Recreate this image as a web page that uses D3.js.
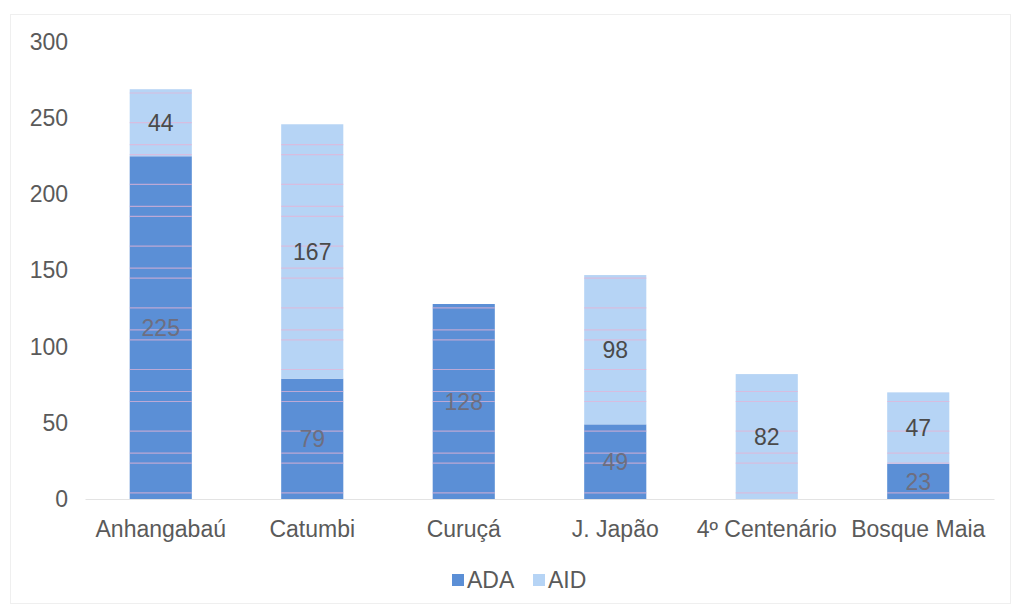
<!DOCTYPE html>
<html>
<head>
<meta charset="utf-8">
<script src="https://cdn.jsdelivr.net/npm/d3@7"></script>
<style>
  html, body { margin: 0; padding: 0; background: #fff; }
  svg { display: block; font-family: "Liberation Sans", Arial, sans-serif; }
</style>
</head>
<body>
<svg id="chart" width="1014" height="611"></svg>
<script>
const categories = ["Anhangabaú", "Catumbi", "Curuçá", "J. Japão", "4º Centenário", "Bosque Maia"];
const ada = [225, 79, 128, 49, 0, 23];
const aid = [44, 167, 0, 98, 82, 47];
const seriesNames = ["ADA", "AID"];
const yTicks = [0, 50, 100, 150, 200, 250, 300];

const colors = { ADA: "#5b8fd6", AID: "#b6d4f5" };
const textColor = "#5a5a5a";
const fontSize = "23px";

const svg = d3.select("#chart");
const W = 1014, H = 611;

// faint frame around the chart area
svg.append("rect")
  .attr("x", 10.5).attr("y", 14.5).attr("width", W - 14).attr("height", H - 22)
  .attr("fill", "none").attr("stroke", "#efefef").attr("stroke-width", 1);

const rows = categories.map((c, i) => ({ cat: c, ADA: ada[i], AID: aid[i] }));
const stacked = d3.stack().keys(seriesNames)(rows);

const x = d3.scaleBand().domain(categories).range([85, 994]).paddingInner(0.59).paddingOuter(0.295);
const y = d3.scaleLinear().domain([0, 300]).range([499, 42]);

// y-axis tick labels
const yAxis = d3.axisLeft(y).tickValues(yTicks).tickSize(0).tickPadding(0);
const gy = svg.append("g").attr("transform", "translate(68,0)").call(yAxis);
gy.select(".domain").remove();
gy.selectAll("text").attr("fill", textColor).style("font-size", fontSize)
  .style("font-family", "'Liberation Sans', Arial, sans-serif");

// bars
const barsG = svg.append("g");
const layer = barsG.selectAll("g").data(stacked).join("g")
  .attr("fill", d => colors[d.key]);
layer.selectAll("rect").data(d => d.map(v => ({ key: d.key, v }))).join("rect")
  .attr("x", d => x(d.v.data.cat))
  .attr("width", x.bandwidth())
  .attr("y", d => y(d.v[1]))
  .attr("height", d => y(d.v[0]) - y(d.v[1]));

// thin pinkish print streaks running across the bars
const clip = svg.append("defs").append("clipPath").attr("id", "barsClip");
stacked.forEach(s => s.forEach(v => {
  if (v[1] - v[0] <= 0) return;
  clip.append("rect")
    .attr("x", x(v.data.cat)).attr("width", x.bandwidth())
    .attr("y", y(v[1])).attr("height", y(v[0]) - y(v[1]));
}));
const streakOffsets = [0, 22, 32];
const streakRows = [];
for (let base = 61; base < 500; base += 61.7) {
  streakOffsets.forEach(o => streakRows.push(base + o));
}
svg.append("g").attr("clip-path", "url(#barsClip)")
  .selectAll("line").data(streakRows).join("line")
  .attr("x1", 85).attr("x2", 994)
  .attr("y1", d => d).attr("y2", d => d)
  .attr("stroke", "#e6b4d6").attr("stroke-opacity", 0.7).attr("stroke-width", 1.2);

// baseline and category labels
const gx = svg.append("g").attr("transform", "translate(0,499)")
  .call(d3.axisBottom(x).tickSize(0).tickPadding(22));
gx.select(".domain").attr("stroke", "#e3e3e3").attr("stroke-width", 1);
gx.selectAll("text").attr("fill", textColor).style("font-size", fontSize)
  .style("font-family", "'Liberation Sans', Arial, sans-serif");

// value labels centred in each segment
stacked.forEach(s => {
  s.forEach(v => {
    const val = v[1] - v[0];
    if (val <= 0) return;
    svg.append("text")
      .attr("x", x(v.data.cat) + x.bandwidth() / 2)
      .attr("y", (y(v[0]) + y(v[1])) / 2)
      .attr("dy", "0.35em")
      .attr("text-anchor", "middle")
      .attr("fill", s.key === "ADA" ? "#6e6e80" : "#4a4a4a")
      .style("font-size", fontSize)
      .text(val);
  });
});

// legend
const legend = svg.append("g").attr("transform", "translate(452,580)");
const items = [{ k: "ADA", x: 0 }, { k: "AID", x: 81 }];
items.forEach(it => {
  legend.append("rect").attr("x", it.x).attr("y", -6).attr("width", 12).attr("height", 12)
    .attr("fill", colors[it.k]);
  legend.append("text").attr("x", it.x + 15).attr("y", 0).attr("dy", "0.35em")
    .attr("fill", textColor).style("font-size", fontSize).text(it.k);
});
</script>
</body>
</html>
